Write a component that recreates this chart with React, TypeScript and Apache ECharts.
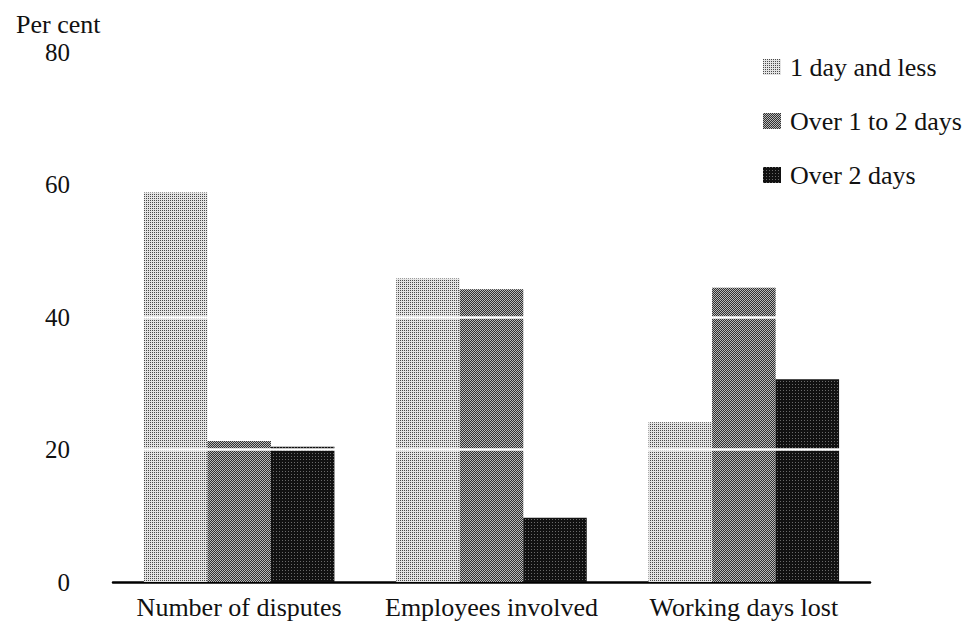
import React, { useEffect, useRef } from "react";
import * as echarts from "echarts";

const categories = ["Number of disputes", "Employees involved", "Working days lost"];
const seriesNames = ["1 day and less", "Over 1 to 2 days", "Over 2 days"];
const oneDayAndLess = [58.8, 45.8, 24.1];
const overOneToTwoDays = [21.3, 44.2, 44.4];
const overTwoDays = [20.4, 9.7, 30.6];
const yMin = 0;
const yMax = 80;
const yInterval = 20;
const whiteRules = [20, 40];

const FONT = "Liberation Serif, Times New Roman, serif";

export default function App() {
  const ref = useRef<HTMLDivElement>(null);

  useEffect(() => {
    if (!ref.current) return;
    const chart = echarts.init(ref.current, undefined, { renderer: "svg" });

    const light = {
      color: "#e4e4e4",
      decal: {
        symbol: "rect",
        symbolSize: 1,
        color: "#4a4a4a",
        dashArrayX: [1, 1],
        dashArrayY: [1, 1],
        rotation: 0,
      },
    };
    const mid = {
      color: "#b8b8b8",
      decal: {
        symbol: "rect",
        symbolSize: 1,
        color: "#303030",
        dashArrayX: [[1, 1], [0, 1, 1, 0]],
        dashArrayY: [1, 0],
        rotation: 0,
      },
    };
    const dark = {
      color: "#111111",
      decal: {
        symbol: "rect",
        symbolSize: 1,
        color: "#6a6a6a",
        dashArrayX: [1, 2],
        dashArrayY: [1, 2],
        rotation: 0,
      },
    };

    const values = [oneDayAndLess, overOneToTwoDays, overTwoDays];
    const styles = [light, mid, dark];

    chart.setOption({
      animation: false,
      backgroundColor: "#ffffff",
      textStyle: { fontFamily: FONT, color: "#111" },
      title: {
        text: "Per cent",
        left: 11,
        top: 6,
        textStyle: { fontFamily: FONT, fontSize: 26, fontWeight: "normal", color: "#111" },
      },
      legend: {
        orient: "vertical",
        left: 758,
        top: 49,
        itemWidth: 18,
        itemHeight: 16,
        itemGap: 28,
        icon: "rect",
        data: seriesNames,
        textStyle: { fontFamily: FONT, fontSize: 26, color: "#111", lineHeight: 26, padding: [0, 0, 0, 4] },
      },
      grid: { left: 113, right: 107, top: 52, bottom: 46, containLabel: false },
      xAxis: {
        type: "category",
        data: categories,
        axisLine: { show: true, lineStyle: { color: "#000", width: 2.5 } },
        axisTick: { show: false },
        axisLabel: { fontFamily: FONT, fontSize: 26, color: "#111", margin: 12, interval: 0 },
      },
      yAxis: {
        type: "value",
        min: yMin,
        max: yMax,
        interval: yInterval,
        axisLine: { show: false },
        axisTick: { show: false },
        splitLine: { show: false },
        axisLabel: { fontFamily: FONT, fontSize: 25, color: "#111", margin: 43, align: "right" },
      },
      series: values.map((v, i) => ({
        name: seriesNames[i],
        type: "bar",
        data: v,
        barGap: "0%",
        barCategoryGap: "24.5%",
        itemStyle: styles[i],
        markLine:
          i === values.length - 1
            ? {
                silent: true,
                symbol: "none",
                z: 10,
                label: { show: false },
                lineStyle: { color: "#ffffff", width: 2.5, type: "solid" },
                data: whiteRules.map((y) => ({ yAxis: y })),
              }
            : undefined,
      })),
    });

    return () => chart.dispose();
  }, []);

  return (
    <div
      ref={ref}
      style={{ position: "fixed", left: 0, top: 0, width: 977, height: 628, background: "#fff" }}
    />
  );
}
